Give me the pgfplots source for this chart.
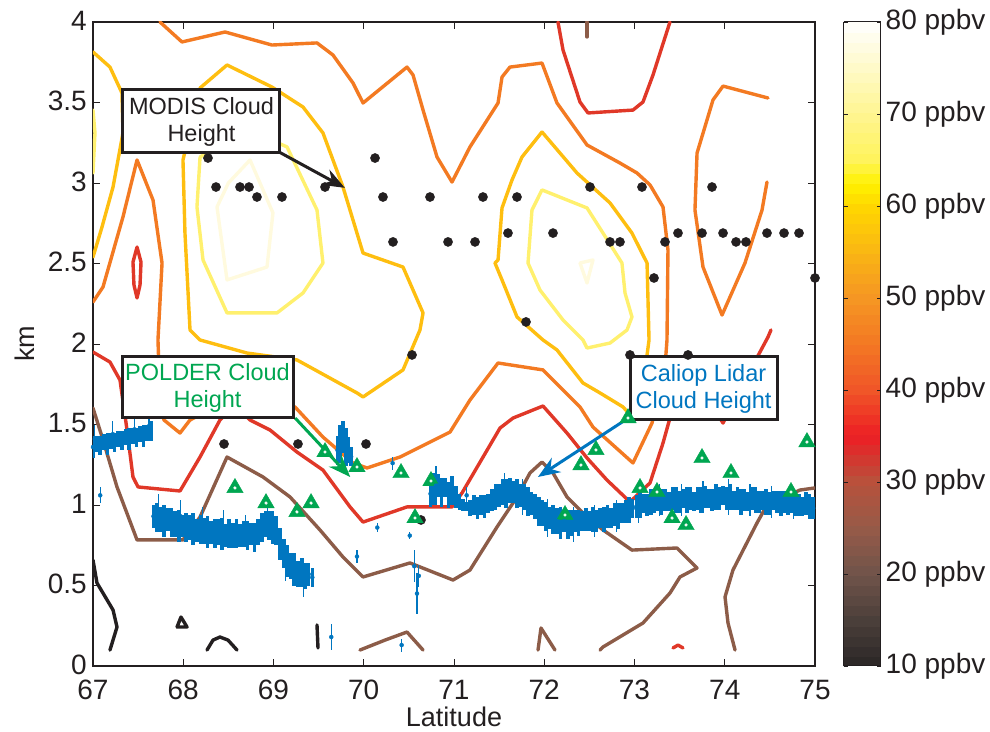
\documentclass[border=0pt]{standalone}
\usepackage{pgfplots}
\pgfplotsset{compat=1.18}
\usepackage{pgfplotstable}
\usetikzlibrary{arrows.meta}
\usepackage{fontspec}
\setmainfont{Liberation Sans}

\definecolor{c10}{RGB}{35,31,32}
\definecolor{c20}{RGB}{140,92,72}
\definecolor{c35}{RGB}{224,56,40}
\definecolor{c45}{RGB}{243,122,34}
\definecolor{c55}{RGB}{254,190,16}
\definecolor{c65}{RGB}{255,240,110}
\definecolor{c75}{RGB}{255,250,222}
\definecolor{lidar}{RGB}{0,118,192}
\definecolor{polder}{RGB}{0,166,81}

\newcommand\tickfont{\fontsize{28}{30}\selectfont}
\newcommand\notefont{\fontsize{23.5}{27}\selectfont}

% MODIS cloud heights
\pgfplotstableread{
x y
68.274 3.155
68.363 2.975
68.629 2.975
68.729 2.975
68.817 2.913
69.094 2.913
69.571 2.975
70.125 3.155
70.213 2.913
70.734 2.913
70.324 2.634
70.934 2.634
71.233 2.634
71.321 2.913
71.698 2.913
71.598 2.689
72.097 2.689
72.507 2.975
73.083 2.975
73.859 2.975
72.729 2.634
72.839 2.634
73.338 2.634
73.482 2.689
73.748 2.689
73.981 2.689
74.125 2.634
74.235 2.634
74.468 2.689
74.657 2.689
74.823 2.689
73.216 2.410
75.000 2.410
71.798 2.137
70.535 1.932
72.950 1.932
73.593 1.932
68.452 1.379
69.271 1.379
70.025 1.379
70.634 0.907
}\modis

% POLDER cloud heights
\pgfplotstableread{
x y
68.573 1.106
68.917 1.012
69.260 0.957
69.416 1.012
69.571 1.329
69.925 1.236
70.413 1.199
70.745 1.149
70.568 0.919
72.230 0.938
72.407 1.248
72.573 1.342
72.928 1.540
73.061 1.106
73.249 1.081
73.416 0.919
73.571 0.876
73.748 1.292
74.069 1.199
74.734 1.081
74.911 1.391
}\polderpts

% Caliop lidar: centre and half spread
\pgfplotstableread{
x y e
67.00 1.36 0.07
67.04 1.38 0.05
67.08 1.37 0.06
67.12 1.39 0.05
67.16 1.38 0.07
67.20 1.40 0.05
67.24 1.39 0.06
67.28 1.41 0.05
67.32 1.40 0.06
67.36 1.42 0.05
67.40 1.41 0.07
67.44 1.43 0.05
67.48 1.42 0.06
67.52 1.44 0.05
67.56 1.43 0.07
67.60 1.45 0.05
67.64 1.46 0.06
67.67 0.93 0.07
67.71 0.92 0.09
67.75 0.91 0.08
67.79 0.90 0.10
67.83 0.91 0.07
67.87 0.89 0.09
67.91 0.88 0.08
67.95 0.87 0.10
67.99 0.87 0.07
68.03 0.86 0.09
68.07 0.86 0.08
68.11 0.85 0.10
68.15 0.84 0.07
68.19 0.85 0.09
68.23 0.84 0.08
68.27 0.83 0.10
68.31 0.83 0.07
68.35 0.82 0.09
68.39 0.83 0.08
68.43 0.82 0.10
68.47 0.81 0.07
68.51 0.82 0.09
68.55 0.81 0.08
68.59 0.82 0.09
68.63 0.81 0.07
68.67 0.82 0.08
68.71 0.81 0.09
68.75 0.82 0.07
68.79 0.80 0.09
68.83 0.83 0.08
68.87 0.86 0.09
68.91 0.88 0.08
68.95 0.87 0.09
68.99 0.86 0.10
69.03 0.84 0.09
69.07 0.76 0.10
69.11 0.70 0.09
69.15 0.65 0.10
69.19 0.62 0.08
69.23 0.60 0.10
69.27 0.57 0.08
69.31 0.58 0.09
69.35 0.56 0.08
69.39 0.57 0.07
69.43 0.55 0.06
69.71 1.34 0.09
69.74 1.38 0.12
69.77 1.42 0.10
69.80 1.36 0.12
69.83 1.34 0.08
69.86 1.30 0.06
70.74 1.07 0.08
70.78 1.10 0.10
70.82 1.12 0.07
70.86 1.08 0.09
70.90 1.11 0.06
70.94 1.06 0.08
70.98 1.09 0.09
71.02 1.05 0.07
71.06 1.02 0.05
71.10 1.00 0.04
71.14 0.99 0.03
71.18 0.98 0.05
71.22 1.00 0.06
71.26 0.98 0.07
71.30 1.00 0.06
71.34 0.99 0.07
71.38 1.01 0.06
71.42 1.03 0.07
71.46 1.05 0.08
71.50 1.06 0.07
71.54 1.08 0.08
71.58 1.07 0.09
71.62 1.09 0.08
71.66 1.08 0.07
71.70 1.07 0.09
71.74 1.06 0.07
71.78 1.05 0.08
71.82 1.02 0.09
71.86 1.01 0.07
71.90 0.99 0.08
71.94 0.96 0.09
71.98 0.95 0.08
72.02 0.93 0.09
72.06 0.92 0.07
72.10 0.91 0.09
72.14 0.90 0.08
72.18 0.89 0.10
72.22 0.90 0.07
72.26 0.88 0.09
72.30 0.89 0.08
72.34 0.90 0.07
72.38 0.89 0.08
72.42 0.90 0.06
72.46 0.91 0.07
72.50 0.90 0.06
72.54 0.91 0.08
72.58 0.90 0.07
72.62 0.92 0.06
72.66 0.91 0.08
72.70 0.93 0.07
72.74 0.92 0.06
72.78 0.94 0.07
72.82 0.93 0.08
72.86 0.95 0.06
72.90 0.96 0.07
72.94 0.97 0.08
72.98 0.98 0.06
73.02 0.99 0.07
73.06 1.00 0.08
73.10 1.01 0.06
73.14 1.00 0.07
73.18 1.02 0.08
73.22 1.01 0.06
73.26 1.03 0.07
73.30 1.02 0.08
73.34 1.03 0.07
73.38 1.02 0.06
73.42 1.04 0.07
73.46 1.03 0.08
73.50 1.02 0.07
73.54 1.04 0.06
73.58 1.03 0.08
73.62 1.04 0.07
73.66 1.02 0.06
73.70 1.04 0.07
73.74 1.03 0.08
73.78 1.05 0.07
73.82 1.04 0.06
73.86 1.03 0.07
73.90 1.05 0.08
73.94 1.04 0.07
73.98 1.06 0.06
74.02 1.04 0.07
74.06 1.05 0.08
74.10 1.03 0.06
74.14 1.04 0.07
74.18 1.02 0.08
74.22 1.03 0.07
74.26 1.02 0.06
74.30 1.04 0.07
74.34 1.03 0.08
74.38 1.02 0.07
74.42 1.03 0.06
74.46 1.02 0.08
74.50 1.01 0.07
74.54 1.03 0.06
74.58 1.02 0.07
74.62 1.01 0.08
74.66 1.02 0.07
74.70 1.00 0.06
74.74 1.02 0.07
74.78 1.01 0.08
74.82 1.00 0.07
74.86 0.99 0.06
74.90 1.01 0.07
74.94 0.99 0.08
74.98 0.98 0.07
}\lidarpts

% isolated lidar returns and ragged edges
\pgfplotstableread{
x y e
67.08 1.06 0.05
67.02 1.41 0.09
67.22 1.44 0.08
67.46 1.47 0.08
67.62 1.49 0.07
67.73 0.97 0.10
67.97 0.93 0.10
68.21 0.88 0.11
68.45 0.86 0.11
68.69 0.84 0.10
68.93 0.92 0.11
69.13 0.66 0.13
69.33 0.55 0.12
69.925 0.68 0.04
70.15 0.86 0.03
70.32 1.26 0.04
70.56 0.62 0.10
70.59 0.45 0.13
70.61 0.56 0.07
70.42 0.13 0.04
69.64 0.18 0.08
70.51 0.81 0.02
71.14 1.06 0.05
70.80 1.12 0.12
71.56 1.09 0.11
71.76 1.05 0.11
72.04 0.92 0.12
72.32 0.88 0.11
72.56 0.90 0.10
72.80 0.93 0.10
73.04 0.99 0.10
73.28 1.03 0.10
73.52 1.03 0.10
73.76 1.05 0.10
74.04 1.05 0.11
74.28 1.03 0.10
74.52 1.02 0.10
74.76 1.01 0.10
}\spikes

\begin{document}
\begin{tikzpicture}
\useasboundingbox (-93pt,-65pt) rectangle (897pt,666pt);
\begin{axis}[
  at={(0,0)}, anchor=south west,
  scale only axis, width=722pt, height=644pt,
  xmin=67, xmax=75, ymin=0, ymax=4,
  xtick={67,68,...,75}, ytick={0,0.5,...,4},
  tick align=inside, major tick length=7pt,
  tick style={line width=0.8pt, c10},
  axis line style={line width=1.4pt, c10},
  /pgf/number format/assume math mode=true,
  tick label style={font=\tickfont, text=c10, inner sep=1pt},
  xticklabel style={yshift=-13pt},
  yticklabel style={xshift=-5pt, yshift=1.5pt},
  xlabel={Latitude}, ylabel={km},
  label style={font=\fontsize{27}{29}\selectfont, text=c10},
  xlabel style={at={(axis description cs:0.5,-0.079)}, anchor=center},
  ylabel style={at={(axis description cs:-0.095,0.5)}, anchor=center},
  colormap={ppbv}{rgb255(0)=(43,38,38); rgb255(1)=(75,63,58); rgb255(2)=(112,84,74);
    rgb255(3)=(150,90,72); rgb255(4)=(183,82,60); rgb255(5)=(237,30,36);
    rgb255(6)=(240,85,40); rgb255(7)=(243,120,35); rgb255(8)=(245,150,35);
    rgb255(9)=(250,182,20); rgb255(10)=(255,215,0); rgb255(10.5)=(255,242,0);
    rgb255(11)=(255,243,90); rgb255(12)=(255,245,145); rgb255(13)=(255,250,200);
    rgb255(14)=(255,255,255)},
  point meta min=10, point meta max=80,
  colorbar sampled,
  colorbar style={
    at={(parent axis.north east)}, anchor=north west, xshift=20pt,
    scale only axis, width=37pt,
    samples=65,
    xtick=\empty,
    ytick={10,20,...,80},
    yticklabel={\pgfmathprintnumber{\tick} ppbv},
    /pgf/number format/assume math mode=true,
    yticklabel style={font=\tickfont, text=c10, inner sep=1pt, xshift=4pt},
    ytick pos=both, yticklabel pos=right,
    tick align=inside, major tick length=4pt,
    tick style={line width=0.8pt, c10},
    axis line style={line width=1pt, c10},
  },
  cont/.style={line width=3.4pt, line join=round, line cap=round, mark=none},
]
% 10 ppbv
\addplot[cont, c10] coordinates {(67.000,0.658) (67.044,0.516) (67.222,0.348) (67.266,0.242) (67.188,0.099)};
\addplot[cont, c10] coordinates {(67.931,0.242) (67.975,0.304) (68.042,0.242) (67.931,0.242)};
\addplot[cont, c10] coordinates {(68.263,0.099) (68.330,0.161) (68.407,0.180) (68.496,0.161) (68.596,0.099)};
\addplot[cont, c10] coordinates {(69.482,0.255) (69.493,0.112)};
% 20 ppbv
\addplot[cont, c20] coordinates {(67.000,1.602) (67.111,1.404) (67.266,1.112) (67.488,0.783) (67.997,0.783) (68.186,0.925) (68.485,1.298) (68.884,1.174) (69.183,1.050) (69.515,0.845) (69.770,0.677) (69.992,0.553) (70.512,0.640) (70.989,0.534) (71.177,0.596) (71.476,0.863) (71.698,1.050) (71.842,1.199) (71.975,1.267) (72.097,1.199) (72.252,1.050) (72.429,0.950) (72.651,0.845) (72.972,0.720) (73.471,0.733) (73.693,0.609) (73.504,0.553) (73.393,0.453) (73.094,0.267) (72.651,0.118) (72.618,0.099)};
\addplot[cont, c20] coordinates {(75.000,1.106) (74.834,1.093) (74.468,1.000) (74.357,0.888) (74.091,0.596) (74.003,0.429) (74.036,0.267) (74.114,0.099)};
\addplot[cont, c20] coordinates {(69.958,0.099) (70.236,0.161) (70.479,0.211) (70.657,0.099)};
\addplot[cont, c20] coordinates {(71.931,0.099) (71.964,0.236) (72.119,0.099)};
\addplot[cont, c20] coordinates {(72.474,4.000) (72.474,3.907)};
% 35 ppbv
\addplot[cont, c35] coordinates {(67.000,1.950) (67.188,1.888) (67.299,1.776) (67.377,1.466) (67.443,1.174) (67.499,1.112) (67.964,1.087) (68.186,1.298) (68.407,1.528) (68.573,1.621) (68.740,1.528) (68.961,1.466) (69.260,1.329) (69.548,1.217) (69.848,0.988) (69.992,0.894) (70.479,0.988) (70.978,0.988) (71.089,1.075) (71.510,1.478) (71.654,1.540) (71.986,1.615) (72.252,1.447) (72.474,1.292) (72.695,1.155) (72.950,1.019) (73.172,1.137) (73.316,1.385) (73.427,1.609) (73.615,1.826) (73.781,1.683) (73.981,1.509) (74.224,1.776) (74.479,2.043) (74.512,2.087)};
\addplot[cont, c35] coordinates {(72.152,4.000) (72.208,3.826) (72.396,3.503) (72.485,3.435) (72.983,3.453) (73.094,3.503) (73.205,3.671) (73.393,4.000)};
\addplot[cont, c35] coordinates {(67.488,2.602) (67.532,2.509) (67.521,2.366) (67.488,2.286) (67.454,2.366) (67.443,2.509) (67.488,2.602)};
\addplot[cont, c35] coordinates {(73.427,0.112) (73.482,0.130) (73.537,0.112)};
% 45 ppbv
\addplot[cont, c45] coordinates {(67.000,2.261) (67.111,2.354) (67.332,2.789) (67.488,3.143) (67.665,2.894) (67.765,2.503) (67.720,2.025) (67.742,1.652) (67.786,1.528) (67.964,1.447) (68.075,1.528) (68.600,1.680) (69.238,1.609) (69.548,1.422) (69.881,1.261) (70.036,1.230) (70.402,1.298) (70.956,1.453) (71.177,1.652) (71.488,1.882) (71.986,1.839) (72.396,1.609) (72.540,1.484) (72.983,1.261) (73.194,1.509) (73.338,1.857) (73.360,2.025) (73.371,2.584) (73.316,2.851) (73.172,2.988) (73.028,3.062) (72.839,3.124) (72.474,3.236) (72.141,3.497) (71.975,3.745) (71.620,3.720) (71.532,3.658) (71.488,3.497) (71.177,3.224) (70.978,3.006) (70.812,3.161) (70.657,3.453) (70.546,3.671) (70.479,3.720) (69.992,3.497) (69.881,3.621) (69.659,3.795) (69.482,3.870) (68.983,3.857) (68.463,3.938) (67.986,3.876) (67.742,4.000)};
\addplot[cont, c45] coordinates {(74.479,3.528) (73.981,3.602) (73.870,3.516) (73.693,3.186) (73.670,2.832) (73.759,2.478) (73.970,2.180) (74.224,2.503) (74.413,2.832) (74.468,3.006)};
% 55 ppbv
\addplot[cont, c55] coordinates {(67.000,3.814) (67.188,3.720) (67.321,3.559) (67.332,3.311) (67.222,2.975) (67.100,2.727) (67.000,2.540)};
\addplot[cont, c55] coordinates {(68.186,3.590) (68.485,3.733) (68.983,3.596) (69.327,3.472) (69.548,3.311) (69.770,2.975) (69.992,2.565) (70.435,2.478) (70.657,2.193) (70.623,2.087) (70.435,1.839) (69.992,1.671) (69.925,1.696) (69.260,1.901) (68.706,1.944) (68.186,2.025) (68.075,2.087) (68.019,2.689) (67.997,3.143) (68.186,3.590)};
\addplot[cont, c55] coordinates {(71.975,3.317) (71.753,3.161) (71.643,3.019) (71.532,2.845) (71.488,2.522) (71.454,2.503) (71.532,2.398) (71.698,2.168) (71.986,2.025) (72.141,1.963) (72.429,1.758) (72.618,1.696) (72.873,1.609) (72.972,1.547) (73.061,1.683) (73.139,1.932) (73.161,2.025) (73.139,2.503) (72.972,2.689) (72.729,2.876) (72.363,3.062) (71.975,3.317)};
% 65 ppbv
\addplot[cont, c65] coordinates {(67.000,3.453) (67.022,3.311) (67.000,3.062)};
\addplot[cont, c65] coordinates {(68.186,3.161) (68.152,2.851) (68.219,2.522) (68.485,2.193) (69.039,2.193) (69.327,2.317) (69.548,2.503) (69.482,2.832) (69.150,3.224) (68.851,3.298) (68.518,3.280) (68.186,3.161)};
\addplot[cont, c65] coordinates {(71.975,2.957) (71.864,2.832) (71.820,2.503) (71.953,2.335) (72.208,2.149) (72.429,2.025) (72.474,1.975) (72.729,2.006) (72.917,2.087) (72.972,2.168) (72.895,2.317) (72.861,2.503) (72.651,2.689) (72.474,2.845) (71.975,2.957)};
% 75 ppbv
\addplot[cont, c75] coordinates {(68.374,2.851) (68.485,2.398) (68.928,2.478) (68.994,2.814) (68.740,3.143) (68.500,3.000) (68.374,2.851)};
\addplot[cont, c75] coordinates {(72.396,2.503) (72.540,2.522) (72.474,2.379) (72.396,2.503)};

% cloud heights
\addplot[only marks, mark=*, mark size=4.6pt, c10] table[x=x, y=y] {\modis};
\addplot[only marks, mark=triangle*, mark size=9.5pt, polder, mark options={fill=polder, draw=polder}] table[x=x, y=y] {\polderpts};
\addplot[only marks, mark=*, mark size=1.4pt, white] table[x=x, y=y] {\polderpts};
\addplot[only marks, mark=none, lidar, error bars/.cd, y dir=both, y explicit, error mark=none,
  error bar style={line width=3.6pt, lidar}] table[x=x, y=y, y error=e] {\lidarpts};
\addplot[only marks, mark=none, lidar, error bars/.cd, y dir=both, y explicit, error mark=none,
  error bar style={line width=1.2pt, lidar}] table[x=x, y=y, y error=e] {\spikes};

% annotations
\draw[c10, line width=3pt, -{Stealth[length=22pt, width=17pt]}] (axis cs:69.07,3.19) -- (axis cs:69.79,2.97);
\draw[polder, line width=3pt, -{Stealth[length=22pt, width=17pt]}] (axis cs:69.24,1.54) -- (axis cs:69.85,1.174);
\draw[lidar, line width=3pt, -{Stealth[length=22pt, width=17pt]}] (axis cs:72.95,1.547) -- (axis cs:71.93,1.174);
\node[draw=c10, line width=3pt, fill=white, minimum width=157pt, minimum height=63pt, inner sep=0pt,
  align=center, font=\notefont, text=c10] at (axis cs:68.202,3.382) {MODIS Cloud\\Height};
\node[draw=c10, line width=3pt, fill=white, minimum width=171pt, minimum height=61pt, inner sep=0pt,
  align=center, font=\notefont, text=polder] at (axis cs:68.269,1.730) {POLDER Cloud\\Height};
\node[draw=c10, line width=3pt, fill=white, minimum width=147pt, minimum height=63pt, inner sep=0pt,
  align=center, font=\notefont, text=lidar] at (axis cs:73.765,1.724) {Caliop Lidar\\Cloud Height};
\end{axis}
\end{tikzpicture}
\end{document}
